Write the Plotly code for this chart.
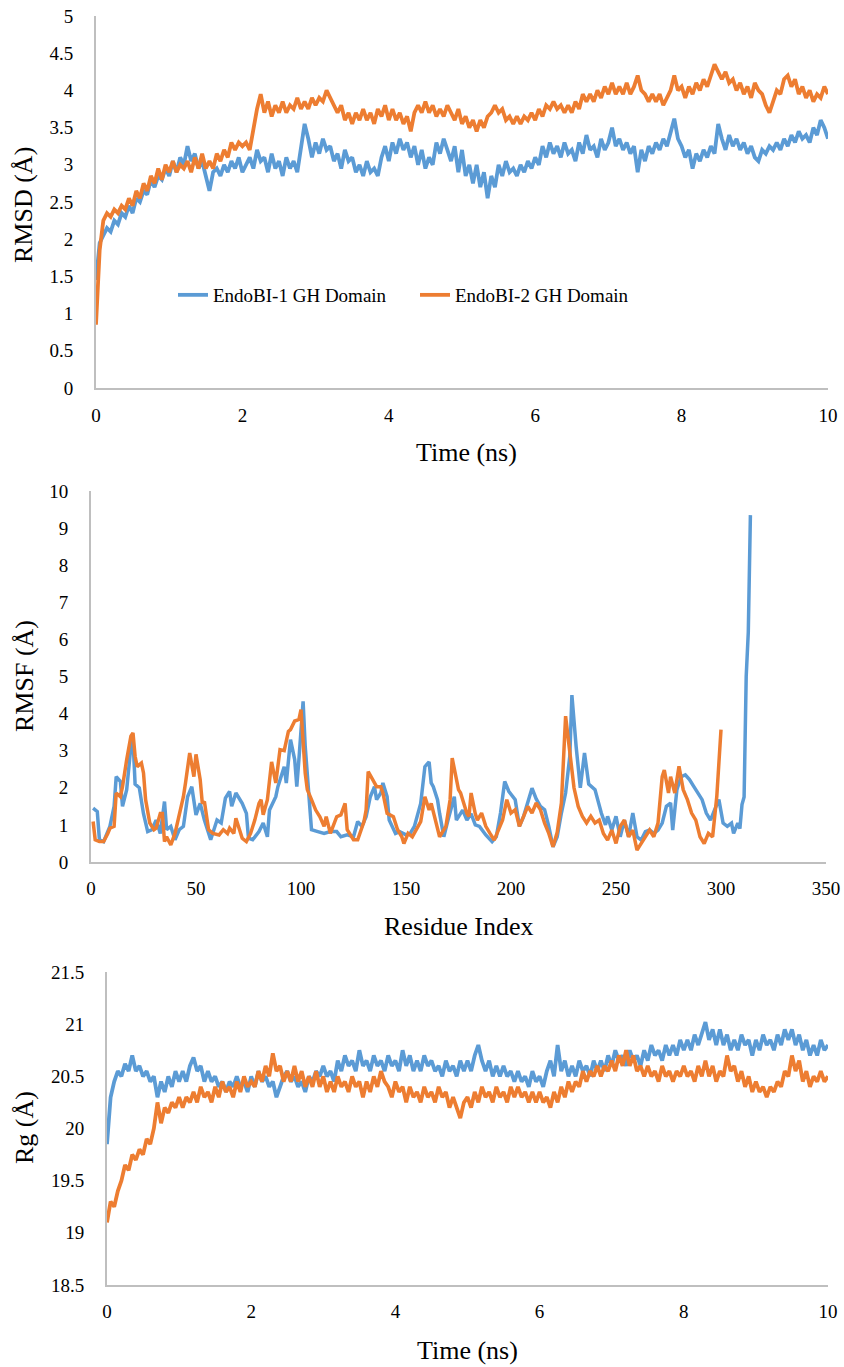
import numpy as np
import plotly.graph_objects as go

BLUE = "#5B9BD5"
ORANGE = "#ED7D31"
FONT = "Liberation Serif"

# ---------------- data ----------------
time_ns = np.round(np.linspace(0, 10, 201), 2)

rmsd_endobi1 = [
    1.45, 1.95, 2.05, 2.15, 2.10, 2.25, 2.20, 2.35, 2.30, 2.45,
    2.35, 2.55, 2.50, 2.65, 2.60, 2.80, 2.70, 2.85, 2.80, 2.95,
    2.85, 3.05, 2.90, 3.10, 3.00, 3.25, 3.05, 3.15, 2.95, 3.05,
    2.85, 2.65, 2.90, 2.95, 2.85, 3.00, 2.90, 3.05, 2.95, 3.10,
    2.90, 3.00, 3.10, 2.95, 3.20, 3.05, 3.10, 2.90, 3.15, 2.95,
    3.05, 2.85, 3.10, 2.95, 3.05, 2.90, 3.20, 3.55, 3.35, 3.10,
    3.30, 3.15, 3.35, 3.20, 3.25, 3.05, 3.15, 2.95, 3.20, 3.05,
    3.10, 2.90, 3.00, 2.85, 3.05, 2.90, 2.95, 2.85, 3.10, 3.25,
    3.05, 3.30, 3.15, 3.35, 3.20, 3.30, 3.10, 3.25, 3.00, 3.20,
    2.95, 3.10, 3.00, 3.30, 3.15, 3.35, 3.20, 3.05, 3.25, 2.90,
    3.20, 2.85, 3.00, 2.75, 3.00, 2.70, 2.90, 2.55, 2.85, 2.70,
    3.00, 2.85, 3.05, 2.90, 2.95, 2.85, 3.00, 2.90, 3.05, 2.95,
    3.10, 3.00, 3.25, 3.10, 3.30, 3.15, 3.25, 3.10, 3.30, 3.15,
    3.20, 3.05, 3.30, 3.15, 3.40, 3.20, 3.25, 3.10, 3.35, 3.20,
    3.30, 3.50, 3.25, 3.35, 3.20, 3.30, 3.15, 3.25, 2.90, 3.20,
    3.05, 3.25, 3.15, 3.30, 3.20, 3.35, 3.25, 3.45, 3.62, 3.35,
    3.25, 3.10, 3.20, 2.95, 3.15, 3.05, 3.20, 3.10, 3.25, 3.15,
    3.55, 3.35, 3.20, 3.40, 3.25, 3.35, 3.20, 3.30, 3.15, 3.25,
    3.10, 3.05, 3.20, 3.15, 3.25, 3.20, 3.30, 3.20, 3.35, 3.25,
    3.40, 3.30, 3.45, 3.35, 3.40, 3.30, 3.50, 3.40, 3.60, 3.50,
    3.35]

rmsd_endobi2 = [
    0.85, 1.85, 2.25, 2.35, 2.30, 2.40, 2.35, 2.45, 2.40, 2.55,
    2.45, 2.65, 2.55, 2.75, 2.65, 2.85, 2.75, 2.95, 2.80, 3.00,
    2.90, 3.05, 2.90, 3.00, 2.95, 3.05, 2.90, 3.10, 2.95, 3.15,
    2.95, 3.05, 2.95, 3.15, 3.05, 3.20, 3.10, 3.30, 3.20, 3.30,
    3.25, 3.30, 3.20, 3.50, 3.75, 3.95, 3.70, 3.85, 3.65, 3.80,
    3.70, 3.85, 3.70, 3.80, 3.75, 3.90, 3.75, 3.85, 3.75, 3.90,
    3.80, 3.90, 3.85, 4.00, 3.90, 3.80, 3.70, 3.80, 3.60, 3.70,
    3.55, 3.70, 3.60, 3.75, 3.60, 3.70, 3.55, 3.75, 3.65, 3.80,
    3.60, 3.75, 3.60, 3.70, 3.55, 3.65, 3.45, 3.70, 3.80, 3.70,
    3.85, 3.70, 3.80, 3.65, 3.75, 3.65, 3.80, 3.70, 3.60, 3.75,
    3.55, 3.65, 3.50, 3.60, 3.45, 3.60, 3.50, 3.65, 3.70, 3.80,
    3.70, 3.75, 3.60, 3.65, 3.55, 3.65, 3.55, 3.65, 3.60, 3.70,
    3.60, 3.75, 3.65, 3.80, 3.75, 3.85, 3.75, 3.80, 3.70, 3.80,
    3.70, 3.85, 3.75, 3.95, 3.85, 3.95, 3.85, 4.00, 3.90, 4.05,
    3.95, 4.10, 3.95, 4.05, 3.95, 4.10, 3.95, 4.05, 4.20, 4.00,
    3.95, 3.85, 3.95, 3.85, 3.95, 3.80, 3.90, 4.00, 4.20, 4.00,
    4.05, 3.90, 4.05, 3.95, 4.10, 4.00, 4.15, 4.05, 4.20, 4.35,
    4.25, 4.15, 4.25, 4.10, 4.15, 4.00, 4.10, 3.95, 4.05, 3.90,
    4.10, 4.00, 3.95, 3.80, 3.70, 3.85, 4.00, 3.95, 4.15, 4.20,
    4.05, 4.15, 3.95, 4.05, 3.90, 4.00, 3.85, 3.95, 3.90, 4.05,
    3.95]

residue_endobi1 = [
    1, 3, 4, 6, 9, 11, 12, 14, 15, 17, 19, 20, 21, 23, 25, 27, 29, 31, 33, 35,
    36, 38, 40, 42, 44, 46, 48, 50, 52, 54, 57, 60, 62, 64, 66, 67, 69, 72, 74, 75,
    77, 80, 82, 84, 85, 88, 89, 92, 93, 95, 97, 98, 99, 101, 102, 104, 105, 108, 111, 114,
    117, 119, 122, 125, 127, 129, 131, 133, 135, 136, 138, 139, 141, 142, 145, 147, 150, 152, 154, 157,
    159, 161, 162, 163, 165, 166, 168, 170, 173, 174, 177, 179, 181, 183, 185, 188, 191, 193, 195, 197,
    199, 202, 204, 206, 208, 210, 212, 214, 216, 218, 220, 222, 224, 226, 228, 229, 231, 233, 235, 237,
    240, 243, 245, 246, 248, 250, 252, 254, 256, 258, 260, 262, 264, 266, 268, 270, 272, 274, 276, 277,
    279, 281, 283, 285, 287, 289, 291, 293, 295, 297, 299, 301, 303, 305, 306, 308, 309, 310, 311, 312,
    313, 314]
rmsf_endobi1 = [
    1.45, 1.36, 0.60, 0.55, 0.96, 1.50, 2.30, 2.17, 1.50, 1.95, 3.12, 3.30, 2.10, 2.00, 1.30, 0.82, 0.87, 1.13, 0.77, 1.63,
    0.87, 0.96, 0.60, 0.87, 0.96, 1.76, 2.03, 1.27, 1.58, 1.13, 0.60, 1.13, 1.05, 1.72, 1.90, 1.50, 1.86, 1.58, 1.31, 0.64,
    0.60, 0.82, 1.05, 0.68, 1.40, 1.76, 2.03, 2.57, 2.13, 3.30, 2.76, 2.03, 2.76, 4.33, 3.12, 1.68, 0.87, 0.82, 0.77, 0.82,
    0.82, 0.68, 0.73, 0.68, 1.09, 0.96, 1.22, 1.76, 2.03, 1.68, 1.86, 2.13, 1.76, 1.13, 0.77, 0.82, 0.73, 0.77, 0.96, 1.58,
    2.57, 2.70, 2.13, 2.03, 1.68, 1.31, 0.68, 1.13, 1.76, 1.13, 1.40, 1.13, 1.30, 1.00, 0.96, 0.73, 0.55, 0.68, 1.32, 2.17,
    1.90, 1.68, 0.96, 1.23, 1.59, 1.99, 1.70, 1.50, 1.41, 0.96, 0.41, 0.68, 1.32, 1.86, 2.85, 4.50, 3.12, 2.00, 2.94, 2.10,
    1.95, 1.32, 1.00, 1.23, 0.86, 1.23, 0.68, 1.13, 0.68, 1.32, 0.68, 0.59, 0.82, 0.86, 0.77, 0.86, 1.05, 1.50, 1.59, 0.86,
    1.95, 2.30, 2.35, 2.22, 2.04, 1.86, 1.68, 1.32, 1.13, 1.41, 1.68, 1.05, 0.96, 1.05, 0.77, 1.05, 0.90, 1.55, 1.75, 5.00,
    6.20, 9.35]

residue_endobi2 = [
    1, 2, 4, 6, 8, 9, 11, 12, 14, 15, 17, 19, 20, 21, 22, 24, 25, 26, 28, 30,
    31, 33, 34, 35, 36, 38, 40, 42, 44, 45, 47, 49, 50, 52, 53, 54, 56, 58, 61, 63,
    65, 66, 68, 69, 71, 72, 74, 76, 78, 80, 81, 82, 84, 86, 88, 90, 92, 94, 95, 97,
    99, 100, 102, 103, 105, 107, 109, 111, 112, 114, 117, 119, 121, 122, 125, 127, 130, 131, 132, 134,
    136, 138, 139, 141, 144, 146, 148, 149, 151, 153, 155, 157, 159, 161, 162, 165, 166, 169, 171, 172,
    175, 176, 179, 180, 181, 183, 184, 186, 188, 190, 192, 194, 196, 198, 200, 202, 204, 206, 208, 210,
    212, 214, 216, 218, 220, 222, 224, 226, 228, 230, 232, 234, 236, 238, 240, 242, 244, 246, 248, 250,
    252, 254, 256, 258, 260, 262, 264, 266, 268, 270, 272, 273, 275, 276, 278, 280, 282, 284, 286, 288,
    290, 292, 294, 296, 298, 300]
rmsf_endobi2 = [
    1.09, 0.60, 0.55, 0.55, 0.77, 0.91, 0.96, 1.86, 1.76, 2.03, 2.76, 3.39, 3.48, 2.85, 2.57, 2.67, 2.40, 1.68, 1.05, 0.87,
    0.91, 1.31, 1.31, 0.55, 0.68, 0.46, 0.77, 1.22, 1.76, 2.13, 2.94, 2.30, 2.90, 2.22, 1.58, 1.63, 0.87, 0.77, 0.73, 0.87,
    0.77, 0.91, 0.77, 1.18, 0.77, 0.64, 0.55, 0.77, 1.13, 1.58, 1.68, 1.27, 1.68, 2.70, 2.13, 3.03, 3.00, 3.52, 3.57, 3.80,
    3.84, 4.11, 2.40, 1.95, 1.68, 1.40, 1.22, 0.96, 1.22, 0.77, 1.22, 1.27, 1.58, 0.87, 0.60, 0.60, 1.09, 1.40, 2.44, 2.22,
    2.03, 2.03, 1.86, 1.31, 1.22, 0.87, 0.68, 0.50, 0.77, 0.68, 0.87, 1.09, 1.76, 1.40, 1.58, 0.96, 0.68, 0.96, 1.68, 2.80,
    1.95, 1.86, 1.31, 1.23, 1.86, 1.30, 1.13, 1.32, 0.96, 0.77, 0.59, 0.86, 1.13, 1.68, 1.32, 1.41, 0.96, 1.23, 1.50, 1.32,
    1.59, 1.41, 1.05, 0.77, 0.41, 0.80, 1.59, 3.93, 3.00, 2.00, 1.50, 1.23, 1.05, 1.23, 1.05, 1.13, 0.77, 0.59, 0.86, 0.50,
    0.96, 1.13, 0.68, 0.86, 0.32, 0.50, 0.68, 0.86, 0.68, 1.05, 2.30, 2.48, 1.86, 2.30, 1.86, 2.58, 1.95, 1.68, 1.32, 1.13,
    0.68, 0.50, 0.77, 0.68, 1.77, 3.57]

rg_endobi1 = [
    19.85, 20.30, 20.45, 20.55, 20.50, 20.62, 20.55, 20.70, 20.55, 20.60,
    20.50, 20.55, 20.45, 20.50, 20.30, 20.45, 20.35, 20.50, 20.40, 20.55,
    20.45, 20.55, 20.45, 20.60, 20.68, 20.55, 20.60, 20.45, 20.55, 20.45,
    20.50, 20.40, 20.45, 20.35, 20.45, 20.40, 20.50, 20.40, 20.45, 20.35,
    20.50, 20.40, 20.55, 20.45, 20.50, 20.40, 20.45, 20.30, 20.40, 20.50,
    20.55, 20.45, 20.50, 20.40, 20.45, 20.35, 20.50, 20.45, 20.55, 20.50,
    20.60, 20.50, 20.55, 20.45, 20.65, 20.55, 20.70, 20.60, 20.65, 20.55,
    20.75, 20.60, 20.65, 20.55, 20.70, 20.60, 20.65, 20.55, 20.70, 20.60,
    20.65, 20.55, 20.75, 20.60, 20.70, 20.55, 20.65, 20.55, 20.70, 20.60,
    20.65, 20.55, 20.60, 20.50, 20.65, 20.55, 20.60, 20.50, 20.65, 20.55,
    20.65, 20.55, 20.70, 20.80, 20.65, 20.55, 20.65, 20.50, 20.60, 20.50,
    20.60, 20.50, 20.55, 20.45, 20.55, 20.45, 20.50, 20.40, 20.55, 20.45,
    20.50, 20.40, 20.55, 20.65, 20.50, 20.80, 20.55, 20.65, 20.50, 20.60,
    20.50, 20.65, 20.55, 20.60, 20.50, 20.65, 20.55, 20.65, 20.55, 20.70,
    20.60, 20.75, 20.65, 20.70, 20.60, 20.75, 20.65, 20.70, 20.60, 20.75,
    20.65, 20.80, 20.70, 20.75, 20.65, 20.80, 20.70, 20.80, 20.70, 20.85,
    20.75, 20.85, 20.75, 20.90, 20.80, 20.90, 21.02, 20.85, 20.95, 20.80,
    20.95, 20.80, 20.90, 20.75, 20.85, 20.75, 20.90, 20.80, 20.85, 20.70,
    20.85, 20.75, 20.90, 20.80, 20.85, 20.75, 20.90, 20.80, 20.95, 20.85,
    20.95, 20.80, 20.90, 20.75, 20.85, 20.70, 20.80, 20.70, 20.85, 20.75,
    20.80]

rg_endobi2 = [
    19.10, 19.30, 19.25, 19.40, 19.50, 19.65, 19.60, 19.75, 19.70, 19.80,
    19.75, 19.90, 19.85, 20.00, 20.25, 20.05, 20.20, 20.15, 20.25, 20.20,
    20.30, 20.20, 20.30, 20.25, 20.35, 20.25, 20.40, 20.30, 20.35, 20.25,
    20.40, 20.30, 20.45, 20.35, 20.40, 20.30, 20.45, 20.35, 20.50, 20.40,
    20.45, 20.40, 20.55, 20.45, 20.60, 20.50, 20.72, 20.55, 20.60, 20.45,
    20.55, 20.45, 20.60, 20.45, 20.55, 20.40, 20.50, 20.40, 20.55, 20.40,
    20.50, 20.35, 20.45, 20.35, 20.50, 20.40, 20.45, 20.35, 20.50, 20.40,
    20.45, 20.30, 20.45, 20.35, 20.50, 20.40, 20.55, 20.45, 20.40, 20.30,
    20.45, 20.35, 20.40, 20.25, 20.40, 20.30, 20.35, 20.25, 20.40, 20.30,
    20.35, 20.25, 20.40, 20.30, 20.35, 20.20, 20.30, 20.20, 20.10, 20.25,
    20.30, 20.20, 20.35, 20.25, 20.40, 20.30, 20.35, 20.25, 20.40, 20.30,
    20.35, 20.25, 20.40, 20.30, 20.40, 20.30, 20.35, 20.25, 20.35, 20.25,
    20.35, 20.25, 20.30, 20.20, 20.35, 20.25, 20.40, 20.30, 20.45, 20.35,
    20.45, 20.40, 20.55, 20.45, 20.55, 20.50, 20.60, 20.50, 20.60, 20.55,
    20.65, 20.55, 20.70, 20.60, 20.75, 20.60, 20.70, 20.55, 20.60, 20.50,
    20.60, 20.50, 20.55, 20.45, 20.60, 20.50, 20.55, 20.45, 20.55, 20.50,
    20.60, 20.50, 20.55, 20.45, 20.60, 20.50, 20.65, 20.50, 20.60, 20.45,
    20.55, 20.50, 20.70, 20.55, 20.60, 20.45, 20.55, 20.40, 20.50, 20.35,
    20.45, 20.35, 20.40, 20.30, 20.40, 20.35, 20.45, 20.40, 20.55, 20.50,
    20.70, 20.55, 20.65, 20.45, 20.55, 20.40, 20.50, 20.45, 20.55, 20.45,
    20.50]

series_names = ["EndoBI-1 GH Domain", "EndoBI-2 GH Domain"]
time_ticks = [0, 2, 4, 6, 8, 10]
residue_ticks = [0, 50, 100, 150, 200, 250, 300, 350]

# ---------------- figure ----------------
W, H = 844, 1367
fig = go.Figure()

ts_w = 3.8
rmsf_w = 3.5
fig.add_trace(go.Scatter(x=time_ns, y=rmsd_endobi1, mode="lines", name=series_names[0],
                         line=dict(color=BLUE, width=ts_w), xaxis="x", yaxis="y"))
fig.add_trace(go.Scatter(x=time_ns, y=rmsd_endobi2, mode="lines", name=series_names[1],
                         line=dict(color=ORANGE, width=ts_w), xaxis="x", yaxis="y"))
fig.add_trace(go.Scatter(x=residue_endobi1, y=rmsf_endobi1, mode="lines", showlegend=False,
                         line=dict(color=BLUE, width=rmsf_w), xaxis="x2", yaxis="y2"))
fig.add_trace(go.Scatter(x=residue_endobi2, y=rmsf_endobi2, mode="lines", showlegend=False,
                         line=dict(color=ORANGE, width=rmsf_w), xaxis="x2", yaxis="y2"))
fig.add_trace(go.Scatter(x=time_ns, y=rg_endobi1, mode="lines", showlegend=False,
                         line=dict(color=BLUE, width=ts_w), xaxis="x3", yaxis="y3"))
fig.add_trace(go.Scatter(x=time_ns, y=rg_endobi2, mode="lines", showlegend=False,
                         line=dict(color=ORANGE, width=ts_w), xaxis="x3", yaxis="y3"))

tickfont = dict(family=FONT, size=19, color="#000000")
common = dict(showline=True, linecolor="#BFBFBF", linewidth=2, showgrid=False,
              zeroline=False, ticks="", tickfont=tickfont, fixedrange=True,
              automargin=False, ticklabeloverflow="allow")

def px_x(p):
    return p / W

def px_y(p):
    return 1 - p / H

fig.update_layout(
    width=W, height=H,
    margin=dict(l=0, r=0, t=0, b=0, pad=0),
    paper_bgcolor="white", plot_bgcolor="white",
    font=dict(family=FONT, color="#000000"),
    xaxis=dict(domain=[px_x(96), px_x(828)], range=[0, 10], tickvals=time_ticks,
               anchor="y", ticklabelstandoff=9, **common),
    yaxis=dict(domain=[px_y(388), px_y(16)], range=[0, 5], dtick=0.5,
               anchor="x", ticklabelstandoff=17, **common),
    xaxis2=dict(domain=[px_x(91), px_x(826)], range=[0, 350], tickvals=residue_ticks,
                anchor="y2", ticklabelstandoff=8, **common),
    yaxis2=dict(domain=[px_y(862), px_y(491)], range=[0, 10], dtick=1,
                anchor="x2", ticklabelstandoff=17, **common),
    xaxis3=dict(domain=[px_x(107), px_x(828)], range=[0, 10], tickvals=time_ticks,
                anchor="y3", ticklabelstandoff=8, **common),
    yaxis3=dict(domain=[px_y(1285), px_y(972)], range=[18.5, 21.5], dtick=0.5,
                anchor="x3", ticklabelstandoff=17, **common),
    legend=dict(orientation="h", x=px_x(173), y=px_y(295), xanchor="left", yanchor="middle",
                font=dict(family=FONT, size=19, color="#000000"),
                bgcolor="rgba(0,0,0,0)", entrywidth=197, entrywidthmode="pixels",
                traceorder="normal"),
    showlegend=True,
)

title_font = dict(family=FONT, size=26, color="#000000")
annots = [
    dict(text="Time (ns)", x=px_x(466), y=px_y(452)),
    dict(text="Residue Index", x=px_x(458), y=px_y(926)),
    dict(text="Time (ns)", x=px_x(467), y=px_y(1350)),
    dict(text="RMSD (Å)", x=px_x(24), y=px_y(205), textangle=-90),
    dict(text="RMSF (Å)", x=px_x(24), y=px_y(676), textangle=-90),
    dict(text="Rg (Å)", x=px_x(24), y=px_y(1128), textangle=-90),
]
for a in annots:
    fig.add_annotation(xref="paper", yref="paper", showarrow=False, font=title_font,
                       xanchor="center", yanchor="middle", **a)

# remove the default page margin so the 844x1367 figure fills the window exactly
page_fix = ("document.body.style.margin='0px';"
            "document.body.style.padding='0px';"
            "document.body.style.overflow='hidden';"
            "document.documentElement.style.overflow='hidden';")

fig.write_html("out.html", post_script=page_fix,
               config={"displayModeBar": False, "staticPlot": True})
